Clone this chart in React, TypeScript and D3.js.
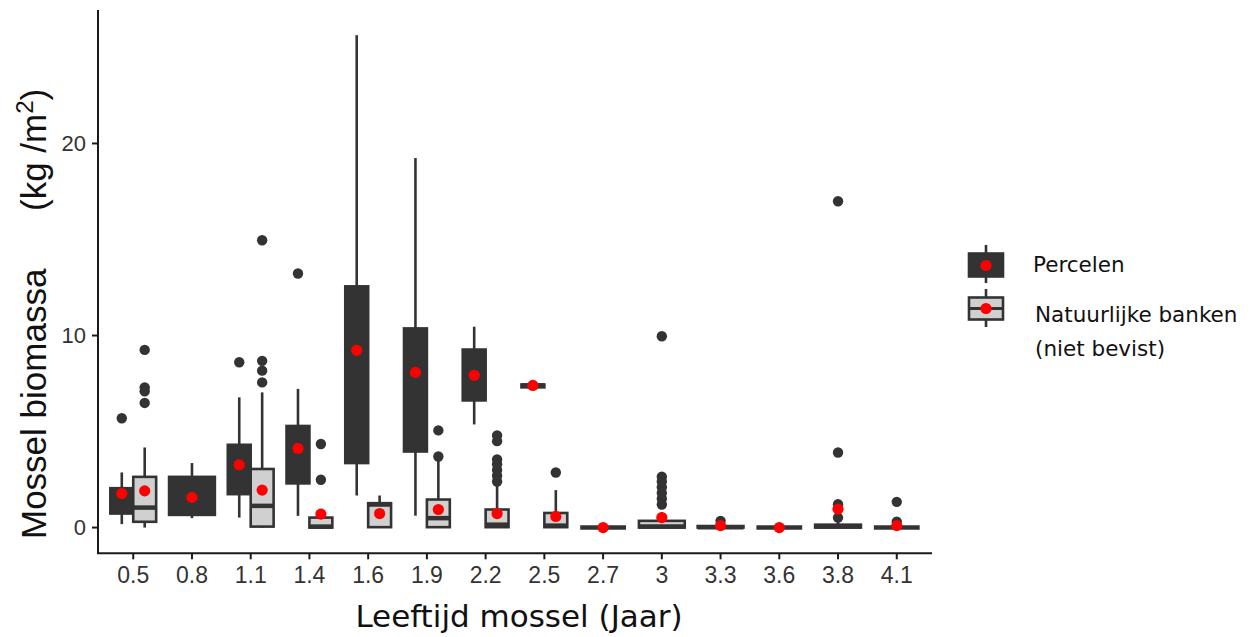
import * as d3 from "d3";

// age classes on the x axis
const ages = ["0.5", "0.8", "1.1", "1.4", "1.6", "1.9", "2.2", "2.5", "2.7", "3", "3.3", "3.6", "3.8", "4.1"];
const yTicks = [0, 10, 20];

// Percelen (culture plots) box statistics, null = no data for that age
const percLow = [0.18, 0.49, 0.52, 0.61, 1.67, 0.62, 5.37, 7.3, null, null, null, null, null, null];
const percQ1 = [0.73, 0.66, 1.74, 2.3, 3.36, 3.96, 6.62, 7.3, null, null, null, null, null, null];
const percMedian = [1.3, 1.6, 3.0, 3.9, 8.5, 7.0, 7.8, 7.4, null, null, null, null, null, null];
const percQ3 = [2.05, 2.64, 4.31, 5.29, 12.56, 10.37, 9.27, 7.45, null, null, null, null, null, null];
const percHigh = [2.87, 3.36, 6.78, 7.22, 25.64, 19.24, 10.46, 7.5, null, null, null, null, null, null];
const percMean = [1.77, 1.57, 3.27, 4.12, 9.23, 8.08, 7.93, 7.4, null, null, null, null, null, null];
const percOutliers = [[5.69], [], [8.61], [13.23], [], [], [], [], [], [], [], [], [], []];

// Natuurlijke banken (niet bevist) box statistics
const natLow = [0, null, 0, 0, 0, 0, 0, 0, 0, 0, 0, 0, 0, 0];
const natQ1 = [0.3, null, 0.05, 0, 0.02, 0.02, 0.02, 0.02, 0, 0, 0, 0, 0, 0];
const natMedian = [1.04, null, 1.13, 0.05, 1.2, 0.49, 0.15, 0.1, 0, 0.05, 0.02, 0, 0.05, 0];
const natQ3 = [2.64, null, 3.05, 0.52, 1.27, 1.46, 0.94, 0.76, 0, 0.35, 0.08, 0, 0.15, 0];
const natHigh = [4.17, null, 7.04, 0.9, 1.67, 3.5, 2.3, 1.95, 0, 0.8, 0.15, 0, 0.35, 0];
const natMean = [1.91, null, 1.95, 0.7, 0.73, 0.94, 0.73, 0.58, 0, 0.52, 0.1, 0, 0.96, 0.1];
const natOutliers = [
  [6.49, 7.1, 7.3, 9.25], [], [7.56, 8.17, 8.68, 14.96], [2.49, 4.35], [], [3.7, 5.06],
  [2.4, 2.7, 3.0, 3.3, 3.55, 4.5, 4.8], [2.87], [], [1.2, 1.5, 1.8, 2.1, 2.4, 2.65, 9.96],
  [0.35], [], [0.52, 1.22, 3.91, 16.99], [0.31, 1.34],
];

const legendLabels = ["Percelen", "Natuurlijke banken", "(niet bevist)"];

const DARK = "#333333";
const LIGHT = "#d0d0d0";
const RED = "#ff0000";

type Box = { low: number; q1: number; med: number; q3: number; high: number; mean: number; out: number[] };

const App = () => {
  const width = 1257;
  const height = 637;
  const left = 98;
  const right = 932;
  const top = 10;
  const bottom = 553.3;

  const x = d3.scalePoint<string>().domain(ages).range([left, right]).padding(0.6);
  const y = d3.scaleLinear().domain([-1.34, 26.95]).range([bottom, top]);
  const boxW = x.step() * 0.78;

  const series = [
    { fill: DARK, low: percLow, q1: percQ1, med: percMedian, q3: percQ3, high: percHigh, mean: percMean, out: percOutliers },
    { fill: LIGHT, low: natLow, q1: natQ1, med: natMedian, q3: natQ3, high: natHigh, mean: natMean, out: natOutliers },
  ];

  const boxes: { cx: number; w: number; fill: string; b: Box }[] = [];
  ages.forEach((a, i) => {
    const present = series.filter((s) => s.q1[i] !== null);
    present.forEach((s, k) => {
      const w = boxW / present.length;
      const cx = (x(a) as number) - boxW / 2 + w * k + w / 2;
      boxes.push({
        cx,
        w,
        fill: s.fill,
        b: {
          low: s.low[i] as number,
          q1: s.q1[i] as number,
          med: s.med[i] as number,
          q3: s.q3[i] as number,
          high: s.high[i] as number,
          mean: s.mean[i] as number,
          out: s.out[i],
        },
      });
    });
  });

  const sans = "'Liberation Sans', Arial, sans-serif";
  const verd = "'DejaVu Sans', Verdana, sans-serif";

  return (
    <svg width={width} height={height} style={{ position: "absolute", left: 0, top: 0, background: "#fff" }}>
      {boxes.map((d, i) => (
        <g key={i}>
          <line x1={d.cx} x2={d.cx} y1={y(d.b.q3)} y2={y(d.b.high)} stroke={DARK} strokeWidth={2.6} />
          <line x1={d.cx} x2={d.cx} y1={y(d.b.q1)} y2={y(d.b.low)} stroke={DARK} strokeWidth={2.6} />
          <rect
            x={d.cx - d.w / 2}
            y={y(d.b.q3)}
            width={d.w}
            height={y(d.b.q1) - y(d.b.q3)}
            fill={d.fill}
            stroke={DARK}
            strokeWidth={2.6}
          />
          <line x1={d.cx - d.w / 2} x2={d.cx + d.w / 2} y1={y(d.b.med)} y2={y(d.b.med)} stroke={DARK} strokeWidth={4.5} />
          {d.b.out.map((o, j) => (
            <circle key={j} cx={d.cx} cy={y(o)} r={5.2} fill={DARK} />
          ))}
        </g>
      ))}
      {boxes.map((d, i) => (
        <circle key={"m" + i} cx={d.cx} cy={y(d.b.mean)} r={5.6} fill={RED} />
      ))}

      {/* axes */}
      <line x1={left} x2={left} y1={top} y2={bottom} stroke="#1a1a1a" strokeWidth={2} />
      <line x1={left - 1} x2={right} y1={bottom} y2={bottom} stroke="#1a1a1a" strokeWidth={2} />
      {yTicks.map((t) => (
        <g key={t}>
          <line x1={left - 6} x2={left} y1={y(t)} y2={y(t)} stroke="#1a1a1a" strokeWidth={2} />
          <text x={left - 12} y={y(t)} dy="0.36em" textAnchor="end" fontFamily={sans} fontSize={22} fill="#333">
            {t}
          </text>
        </g>
      ))}
      {ages.map((a) => (
        <g key={a}>
          <line x1={x(a)} x2={x(a)} y1={bottom} y2={bottom + 6} stroke="#1a1a1a" strokeWidth={2} />
          <text x={x(a)} y={583} textAnchor="middle" fontFamily={sans} fontSize={23} fill="#333">
            {a}
          </text>
        </g>
      ))}

      <text x={(left + right) / 2 + 4} y={627} textAnchor="middle" fontFamily={verd} fontSize={31} fill="#111">
        Leeftijd mossel (Jaar)
      </text>
      <text transform="translate(46,539) rotate(-90)" fontFamily={sans} fontSize={35} fill="#111">
        Mossel biomassa
      </text>
      <text transform="translate(46,211) rotate(-90)" fontFamily={sans} fontSize={35} fill="#111">
        (kg /m<tspan fontSize={24} dy={-13}>2</tspan>
        <tspan dy={13}>)</tspan>
      </text>

      {/* legend */}
      <g>
        <line x1={986} x2={986} y1={245} y2={283} stroke={DARK} strokeWidth={2.6} />
        <rect x={969} y={253.5} width={34} height={23} fill={DARK} stroke={DARK} strokeWidth={2.6} />
        <circle cx={986} cy={265.5} r={5.6} fill={RED} />
        <line x1={986} x2={986} y1={289} y2={327} stroke={DARK} strokeWidth={2.6} />
        <rect x={969} y={297.5} width={34} height={22} fill={LIGHT} stroke={DARK} strokeWidth={2.6} />
        <line x1={969} x2={1003} y1={308.5} y2={308.5} stroke={DARK} strokeWidth={3} />
        <circle cx={986} cy={308.5} r={5.6} fill={RED} />
        <text x={1033} y={272} fontFamily={verd} fontSize={21.5} fill="#111">{legendLabels[0]}</text>
        <text x={1035} y={322} fontFamily={verd} fontSize={21.5} fill="#111">{legendLabels[1]}</text>
        <text x={1035} y={356} fontFamily={verd} fontSize={21.5} fill="#111">{legendLabels[2]}</text>
      </g>
    </svg>
  );
};

export default App;
